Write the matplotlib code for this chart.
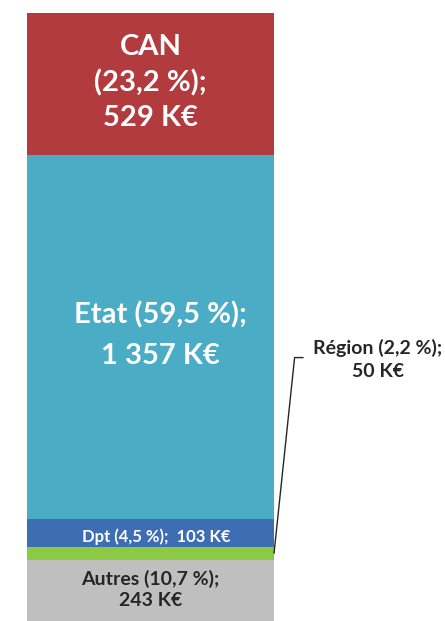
import matplotlib.pyplot as plt

# segments from bottom to top
NAMES = ["Autres", "Région", "Dpt", "Etat", "CAN"]
VALUES = [243, 50, 103, 1357, 529]
PCTS = ["10,7", "2,2", "4,5", "59,5", "23,2"]
COLORS = ["#BFBFBF", "#8CC944", "#3D6DB2", "#4BACC6", "#B13B3D"]

plt.rcParams['font.family'] = ['Lato', 'DejaVu Sans']

fig = plt.figure(figsize=(4.45, 6.21), dpi=100)
ax = fig.add_axes([0, 0, 1, 1])

bottoms = []
b = 0
for v in VALUES:
    bottoms.append(b)
    b += v

ax.bar([0] * len(VALUES), VALUES, bottom=bottoms, width=1.0, color=COLORS,
       edgecolor="none")

labels = {
    "CAN": "CAN\n(%s %%);\n%d K€" % (PCTS[4], VALUES[4]),
    "Etat": "Etat (%s %%);\n%s K€" % (PCTS[3], "{:,}".format(VALUES[3]).replace(",", " ")),
    "Dpt": "Dpt (%s %%);  %d K€" % (PCTS[2], VALUES[2]),
    "Autres": "Autres (%s %%);\n%d K€" % (PCTS[0], VALUES[0]),
}
style = {
    "CAN": dict(size=21, color="white", dy=1, dx=0, ls=1.42),
    "Etat": dict(size=21, color="white", dy=2, dx=10, ls=1.7),
    "Dpt": dict(size=12, color="white", dy=-4, dx=6, ls=1.2),
    "Autres": dict(size=14, color="#262626", dy=3, dx=0, ls=1.25),
}
for name, val, bot in zip(NAMES, VALUES, bottoms):
    if name not in labels:
        continue
    s = style[name]
    ax.annotate(labels[name], xy=(0, bot + val / 2), xytext=(s["dx"], s["dy"]),
                textcoords="offset pixels", ha="center", va="center",
                fontsize=s["size"], color=s["color"], fontweight="bold",
                linespacing=s["ls"])

# Région label with leader line
ri = NAMES.index("Région")
ax.annotate("%s (%s %%);\n%d K€" % (NAMES[ri], PCTS[ri], VALUES[ri]),
            xy=(0.5, bottoms[ri] + VALUES[ri] / 2), xytext=(0.921, 990),
            ha="center", va="center", fontsize=14, fontweight="bold",
            color="#262626", linespacing=1.4,
            arrowprops=dict(arrowstyle="-", color="#262626", lw=1.0,
                            shrinkA=0, shrinkB=0, relpos=(-0.08, 0.55),
                            connectionstyle="angle,angleA=0,angleB=84,rad=0"))

ax.set_xlim(-0.609, 1.192)
ax.set_ylim(16, 2330)
ax.axis("off")

plt.savefig("out.png", dpi=100)
